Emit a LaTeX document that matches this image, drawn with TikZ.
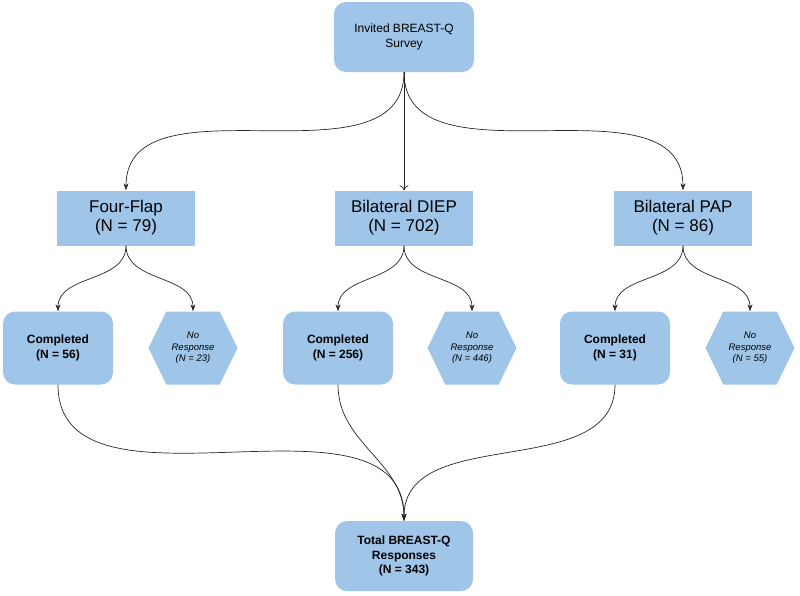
\documentclass[tikz,border=0pt]{standalone}
\usepackage{fontspec}
\setmainfont{Liberation Sans}
\usetikzlibrary{arrows.meta,shapes.symbols}
\definecolor{boxblue}{HTML}{9FC5E8}
\definecolor{linegray}{HTML}{262626}
\begin{document}
\begin{tikzpicture}[x=1pt,y=-1pt,
  every node/.style={fill=boxblue,align=center,inner sep=2pt},
  roundbox/.style={rounded corners=12pt,minimum width=110pt,minimum height=73pt},
  flapbox/.style={minimum width=138pt,minimum height=55pt,font=\fontsize{17}{19}\selectfont},
  hexbox/.style={signal,signal to=east and west,signal pointer angle=128,minimum width=89pt,minimum height=73pt,inner xsep=0pt,font=\fontsize{9.5}{11.5}\selectfont\itshape},
  link/.style={linegray,line width=0.7pt,-{Stealth[length=7pt,width=5pt]}}]
  \useasboundingbox (0,0) rectangle (800,595);
  \node[roundbox,minimum width=140pt,minimum height=70pt,font=\fontsize{12}{14.5}\selectfont] (invited) at (404,37) {Invited BREAST-Q\\Survey};
  \node[flapbox] (four) at (126,218) {Four-Flap\\(N = 79)};
  \node[flapbox] (diep) at (404,218) {Bilateral DIEP\\(N = 702)};
  \node[flapbox] (pap) at (683,218) {Bilateral PAP\\(N = 86)};
  \node[roundbox,font=\fontsize{12}{14.5}\selectfont\bfseries] (comp1) at (58,348) {Completed\\(N = 56)};
  \node[roundbox,font=\fontsize{12}{14.5}\selectfont\bfseries] (comp2) at (338,348) {Completed\\(N = 256)};
  \node[roundbox,font=\fontsize{12}{14.5}\selectfont\bfseries] (comp3) at (615,348) {Completed\\(N = 31)};
  \node[hexbox] (none1) at (193,348) {No\\Response\\(N = 23)};
  \node[hexbox] (none2) at (472,348) {No\\Response\\(N = 446)};
  \node[hexbox] (none3) at (750,348) {No\\Response\\(N = 55)};
  \node[roundbox,minimum width=138pt,minimum height=70pt,font=\fontsize{12}{14.5}\selectfont\bfseries] (total) at (404,556) {Total BREAST-Q\\Responses\\(N = 343)};
  % survey to groups
  \draw[link] (invited.south) to[out=-90,in=90] (four.north);
  \draw[linegray,line width=0.7pt,-{To[length=5pt,width=9pt]}] (invited.south) -- (diep.north);
  \draw[link] (invited.south) to[out=-90,in=90] (pap.north);
  % groups to responses
  \draw[link] (four.south) to[out=-90,in=90] (comp1.north);
  \draw[link] (four.south) to[out=-90,in=90] (none1.north);
  \draw[link] (diep.south) to[out=-90,in=90] (comp2.north);
  \draw[link] (diep.south) to[out=-90,in=90] (none2.north);
  \draw[link] (pap.south) to[out=-90,in=90] (comp3.north);
  \draw[link] (pap.south) to[out=-90,in=90] (none3.north);
  % completed to total
  \draw[link] (comp1.south) to[out=-90,in=90] (total.north);
  \draw[link] (comp2.south) to[out=-90,in=90] (total.north);
  \draw[link] (comp3.south) to[out=-90,in=90] (total.north);
\end{tikzpicture}
\end{document}
